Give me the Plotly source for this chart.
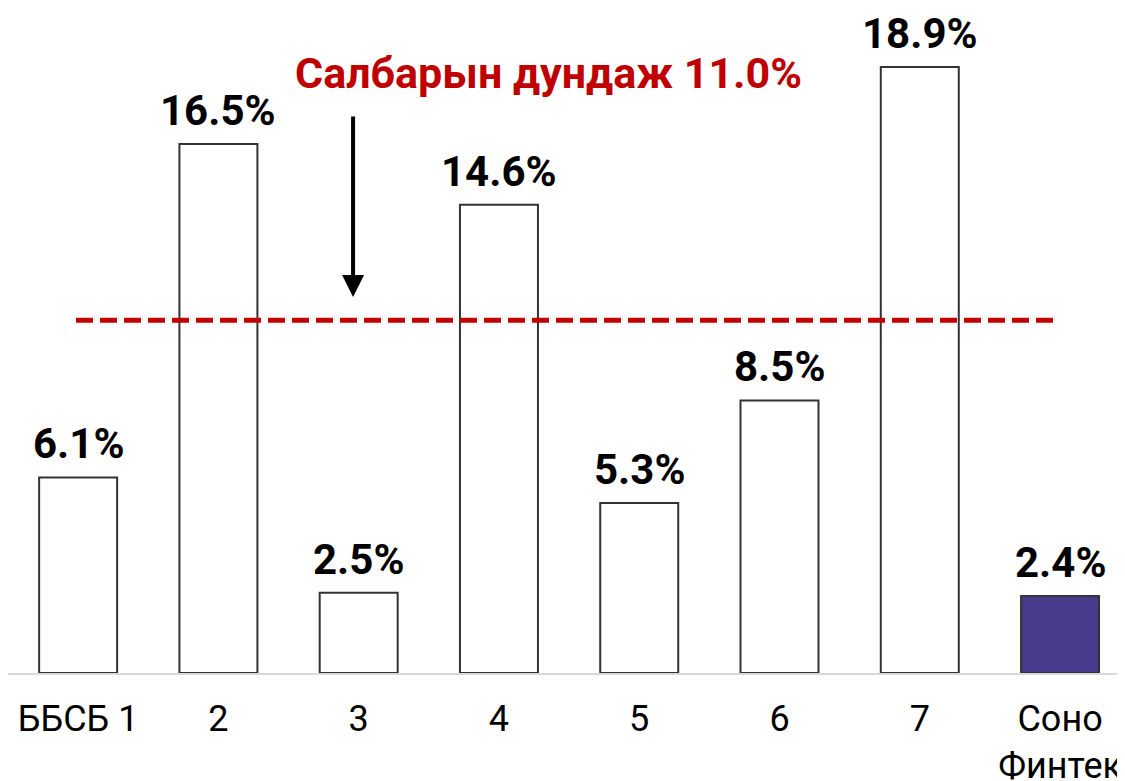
import plotly.graph_objects as go

# data
categories = ["ББСБ 1", "2", "3", "4", "5", "6", "7", "Соно<br>Финтек"]
values = [6.1, 16.5, 2.5, 14.6, 5.3, 8.5, 18.9, 2.4]
highlight = "Соно<br>Финтек"
sector_avg = 11.0
avg_label = "Салбарын дундаж 11.0%"

FONT = "Roboto"
RED = "#C00000"
PURPLE = "#473B8E"

fills = [PURPLE if c == highlight else "white" for c in categories]

fig = go.Figure()
fig.add_trace(go.Bar(
    x=categories, y=values,
    marker=dict(color=fills, line=dict(color="#333333", width=2)),
    width=0.556,
    hoverinfo="skip",
))

# value labels above the bars (x by category index)
for i, v in enumerate(values):
    fig.add_annotation(
        x=i, y=v, text=f"<b>{v:.1f}%</b>", showarrow=False,
        yanchor="bottom", yshift=7,
        font=dict(family=FONT, size=42, color="black"),
    )

# sector average dashed line
fig.add_shape(
    type="line", xref="x", yref="y",
    x0=-0.015, x1=6.95, y0=sector_avg, y1=sector_avg,
    line=dict(color=RED, width=5, dash="17px,7px"),
)

fig.add_annotation(
    x=3.35, y=18.7, xref="x", yref="y", text=f"<b>{avg_label}</b>",
    showarrow=False, font=dict(family=FONT, size=43, color=RED),
)

# arrow pointing at the line
fig.add_annotation(
    x=1.96, y=11.73, ax=1.96, ay=17.4, xref="x", yref="y",
    axref="x", ayref="y", text="", showarrow=True,
    arrowhead=2, arrowsize=1.1, arrowwidth=4, arrowcolor="black",
)

fig.update_layout(
    width=1125, height=781,
    margin=dict(l=0, r=0, t=0, b=116),
    paper_bgcolor="white", plot_bgcolor="white",
    showlegend=False,
    font=dict(family=FONT, color="black"),
    xaxis=dict(
        range=[-0.5, 7.52], showgrid=False, zeroline=False,
        showline=True, linecolor="#D9D9D9", linewidth=2,
        ticks="", ticklabelstandoff=13,
        tickfont=dict(family=FONT, size=36, color="black"),
    ),
    yaxis=dict(range=[0, 20.74], visible=False),
)

fig.write_html("out.html")
